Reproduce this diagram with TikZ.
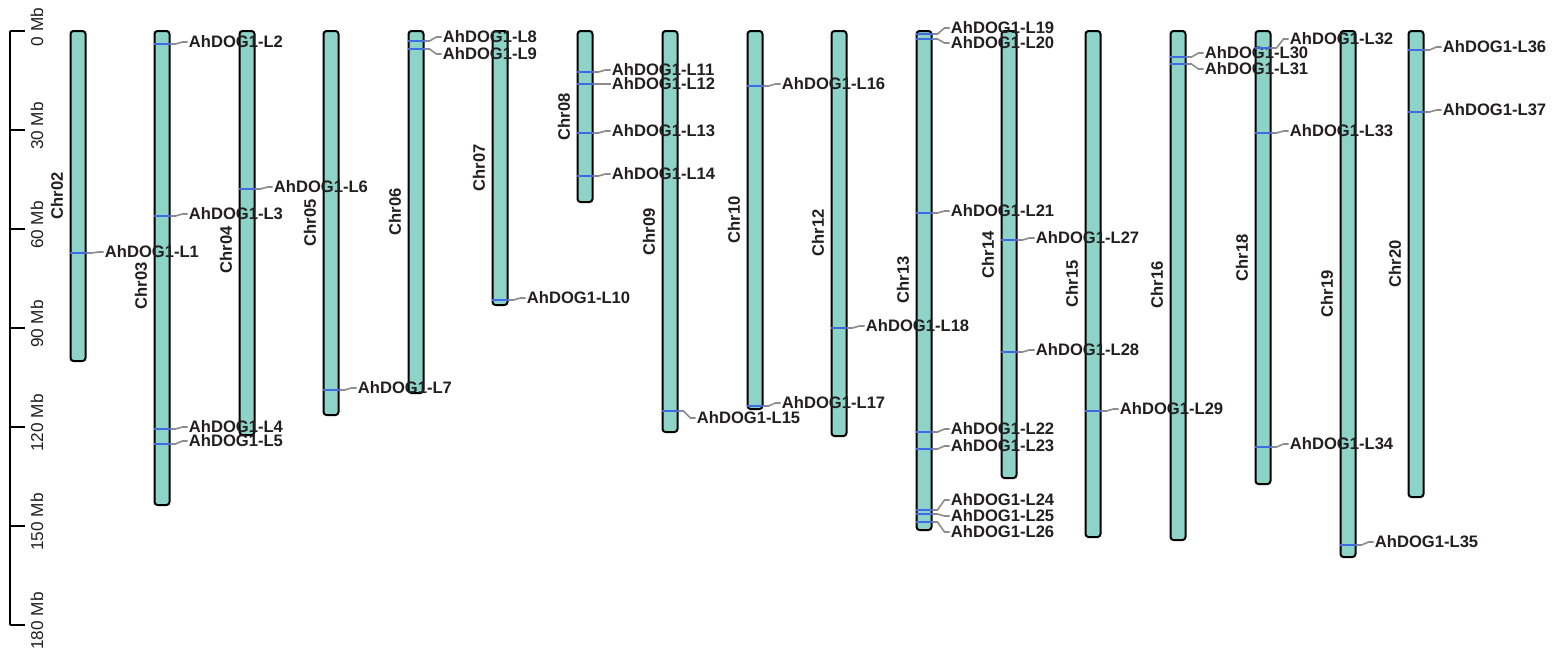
\documentclass[tikz,border=0pt]{standalone}
\usepackage{fontspec}
\setmainfont{Liberation Sans}
\definecolor{chrvert}{HTML}{8DD3C7}
\definecolor{genebleu}{HTML}{4169E1}
\definecolor{liengris}{HTML}{8C8C8C}
\definecolor{texte}{HTML}{231F20}
\begin{document}
\begin{tikzpicture}[x=0.5pt,y=-0.5pt,
  chrom/.style={draw=black,line width=1pt,fill=chrvert,rounded corners=1.5pt,
    minimum width=7.5pt,inner sep=0pt},
  nomchr/.style={rotate=90,font=\fontsize{8.3}{10}\selectfont\bfseries,text=texte,inner sep=0pt},
  etiq/.style={anchor=west,font=\fontsize{8.3}{10}\selectfont\bfseries,text=texte,inner sep=0.5pt},
  gene/.style={genebleu,line width=0.65pt},
  lien/.style={liengris,line width=0.8pt},
  graduation/.style={rotate=90,font=\fontsize{8.6}{10}\selectfont,text=texte,inner sep=0pt}]
  \useasboundingbox (0,0) rectangle (1553,659);
  % axe en Mb
  \draw[line width=0.9pt] (10,31) -- (10,625);
  \foreach \m in {0,30,...,180} {
    \draw[line width=0.9pt] (10,31+3.3*\m) -- (25,31+3.3*\m); % graduation
    \node[graduation] (t\m) at (37,27+3.3*\m) {\m{} Mb};
  }
  % chromosomes : nom / bord gauche / bas / position du nom
  \foreach \ch/\xg/\yb/\yn in {02/70/361/196, 03/154/505/286, 04/239/435/250,
      05/323/415/223, 06/408/393/212, 07/492/305/168, 08/577/202/117,
      09/662/432/232, 10/747/409/220, 12/831/436/233, 13/916/530/280,
      14/1001/478/255, 15/1085/537/284, 16/1170/540/285, 18/1255/484/258,
      19/1340/557/294, 20/1408/497/264} {
    \node[chrom,minimum height={(\yb-31)*0.5pt}] (c\ch) at (\xg+8,{(31+\yb)/2}) {};
    \node[nomchr] (n\ch) at (\xg-13,\yn) {Chr\ch};
  }
  % genes : numero / chromosome / position / position de l'etiquette
  \foreach \k/\ch/\yg/\ye in {1/02/253/252, 2/03/44/42, 3/03/216/214, 4/03/429/427,
      5/03/444/441, 6/04/189/187, 7/05/390/388, 8/06/41/37, 9/06/49/54,
      10/07/300/298, 11/08/72/70, 12/08/84/84, 13/08/133/131, 14/08/176/174,
      15/09/411/418, 16/10/86/84, 17/10/406/403, 18/12/328/326, 19/13/34/28,
      20/13/39/43, 21/13/213/211, 22/13/432/429, 23/13/449/446, 24/13/510/500,
      25/13/514/516, 26/13/522/532, 27/14/240/238, 28/14/352/350, 29/15/411/409,
      30/16/57/53, 31/16/64/69, 32/18/48/39, 33/18/133/131, 34/18/447/444,
      35/19/545/542, 36/20/50/47, 37/20/112/110} {
    \coordinate (g\k) at (c\ch.east |- 0,\yg);
    \draw[gene] (c\ch.west |- g\k) -- (g\k); % trait sur le chromosome
    \path (c\ch.east |- 0,\ye) ++(17,0) node[etiq] (l\k) {AhDOG1-L\k};
    \draw[lien] (g\k) -- ++(5,0) -- ([xshift=-2.5pt]l\k.west) -- (l\k.west);
  }
\end{tikzpicture}
\end{document}
